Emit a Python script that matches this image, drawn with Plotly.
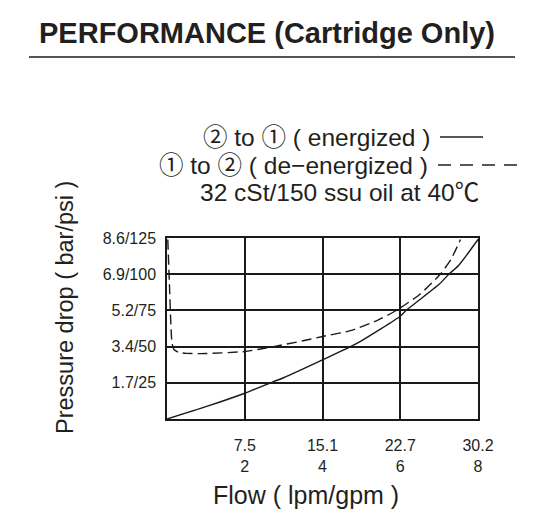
import plotly.graph_objects as go

# ---- data (flow in gpm, pressure drop in psi) ----
energized_flow = [0, 1, 2, 2.74, 3, 4, 4.72, 5, 6, 6.17, 7, 7.25, 7.5, 8]
energized_psi = [0, 8.5, 17.8, 25.8, 28.5, 40.8, 50, 54, 71, 75.4, 93, 100, 106, 124]

deenergized_flow = [0.02, 0.06, 0.1, 0.13, 0.18, 0.3, 0.5, 1, 2, 2.74, 3.5, 4, 4.72, 5.4, 5.9, 6.5, 7.03, 7.3, 7.55]
deenergized_psi = [124, 95, 65, 52, 48, 46, 45.3, 45.2, 46.6, 50, 54, 57, 61, 68, 75, 86, 100, 110, 124]

x_tickvals = [2, 4, 6, 8]
x_ticktext = ["7.5<br>2", "15.1<br>4", "22.7<br>6", "30.2<br>8"]
y_tickvals = [25, 50, 75, 100, 125]
y_ticktext = ["1.7/25", "3.4/50", "5.2/75", "6.9/100", "8.6/125"]

title_text = "PERFORMANCE (Cartridge Only)"
legend_lines = ["② to ① ( energized )", "① to ② ( de−energized )", "32 cSt/150 ssu oil at 40℃"]
x_title = "Flow ( lpm/gpm )"
y_title = "Pressure drop ( bar/psi )"

# ---- layout geometry (pixels) ----
W, H = 558, 524
L, R, T, B = 167, 478, 238, 419

def px(x):
    return (x - L) / (R - L)

def py(y):
    return (B - y) / (B - T)

FONT = "Liberation Sans, Arial, Noto Sans CJK KR, sans-serif"
TXT = "#231f20"

fig = go.Figure()
fig.add_trace(go.Scatter(x=energized_flow, y=energized_psi, mode="lines",
                         line=dict(color="#1a1a1a", width=1.4, shape="spline", smoothing=0.6),
                         showlegend=False, hoverinfo="skip"))
fig.add_trace(go.Scatter(x=deenergized_flow, y=deenergized_psi, mode="lines",
                         line=dict(color="#1a1a1a", width=1.4, dash="10px,5px", shape="spline", smoothing=0.5),
                         showlegend=False, hoverinfo="skip"))

tickfont = dict(size=16, color=TXT, family=FONT)
fig.update_layout(
    width=W, height=H,
    margin=dict(l=L, r=W - R, t=T, b=H - B),
    paper_bgcolor="white", plot_bgcolor="white",
    font=dict(family=FONT, color=TXT),
    xaxis=dict(range=[0, 8], tickvals=x_tickvals, ticktext=x_ticktext,
               showgrid=True, gridcolor="#1a1a1a", gridwidth=1.5,
               showline=True, linecolor="#1a1a1a", linewidth=1.5, mirror=True,
               ticks="", tickfont=tickfont, ticklabelstandoff=11,
               zeroline=False, fixedrange=True),
    yaxis=dict(range=[0, 125], tickvals=y_tickvals, ticktext=y_ticktext,
               showgrid=True, gridcolor="#1a1a1a", gridwidth=1.5,
               showline=True, linecolor="#1a1a1a", linewidth=1.5, mirror=True,
               ticks="", tickfont=tickfont, ticklabelstandoff=6,
               zeroline=False, fixedrange=True),
)

annotations = [
    dict(text=title_text, x=px(267), y=py(33), font=dict(size=29, color=TXT, family=FONT, weight="bold")),
    dict(text=legend_lines[0], x=px(432), y=py(137), xanchor="right", font=dict(size=24.5, color=TXT, family=FONT)),
    dict(text=legend_lines[1], x=px(430), y=py(165), xanchor="right", font=dict(size=24.5, color=TXT, family=FONT)),
    dict(text=legend_lines[2], x=px(339), y=py(192), font=dict(size=24.5, color=TXT, family=FONT)),
    dict(text=x_title, x=px(306), y=py(495), font=dict(size=25, color=TXT, family=FONT)),
    dict(text=y_title, x=px(65), y=py(308), textangle=-90, font=dict(size=23.5, color=TXT, family=FONT)),
]
for a in annotations:
    a.setdefault("xanchor", "center")
    fig.add_annotation(xref="paper", yref="paper", showarrow=False, yanchor="middle", **a)

shapes = [
    dict(type="line", x0=px(29), x1=px(515), y0=py(57), y1=py(57), line=dict(color="#555555", width=2)),
    dict(type="line", x0=px(440), x1=px(483), y0=py(137), y1=py(137), line=dict(color=TXT, width=1.5)),
    dict(type="line", x0=px(438), x1=px(520), y0=py(165), y1=py(165), line=dict(color=TXT, width=1.5, dash="13px,9px")),
]
for s in shapes:
    fig.add_shape(xref="paper", yref="paper", **s)

fig.write_html("out.html")
